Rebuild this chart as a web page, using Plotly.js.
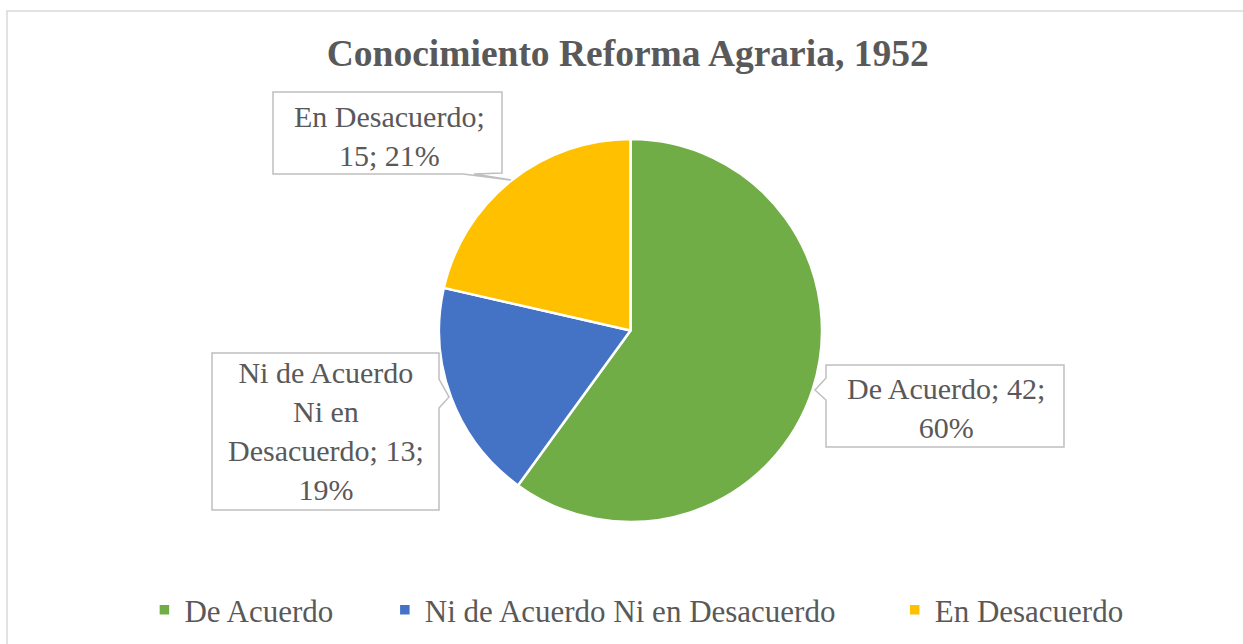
<!DOCTYPE html>
<html>
<head>
<meta charset="utf-8">
<script src="https://cdn.plot.ly/plotly-3.0.1.min.js"></script>
<style>html,body{margin:0;padding:0;background:#fff}#chart{width:1243px;height:644px}</style>
</head>
<body>
<div id="chart"></div>
<script>
const categories = ["De Acuerdo", "Ni de Acuerdo Ni en Desacuerdo", "En Desacuerdo"];
const values = [42, 13, 15];
const percents = ["60%", "19%", "21%"];
const colors = ["#70AD47", "#4472C4", "#FFC000"];
const titleText = "Conocimiento Reforma Agraria, 1952";

const W = 1243, H = 644;
const X = p => p / W;
const Y = p => 1 - p / H;
const path = pts => pts.map((p, i) => (i ? "L" : "M") + X(p[0]).toFixed(5) + "," + Y(p[1]).toFixed(5)).join(" ") + " Z";
const pathOpen = pts => pts.map((p, i) => (i ? "L" : "M") + X(p[0]).toFixed(5) + "," + Y(p[1]).toFixed(5)).join(" ");

const font = "'Liberation Serif', 'Times New Roman', serif";
const grey = "#595959";
const boxLine = "#BFBFBF";

// legend spacing: trailing non-breaking spaces widen the gap between entries
const legendPad = [6, 7, 0];
const legendLabels = categories.map((c, i) => c + "\u00a0".repeat(legendPad[i]));

const trace = {
  type: "pie",
  labels: legendLabels,
  values: values,
  sort: false,
  direction: "clockwise",
  rotation: 0,
  textinfo: "none",
  hovertext: categories,
  hoverinfo: "text+value+percent",
  marker: {colors: colors, line: {color: "#FFFFFF", width: 2.5}},
  domain: {x: [X(439), X(822)], y: [Y(522), Y(139)]},
  showlegend: true
};

const lbl = [
  categories[0] + "; " + values[0] + ";<br>" + percents[0],
  "Ni de Acuerdo<br>Ni en<br>Desacuerdo; " + values[1] + ";<br>" + percents[1],
  categories[2] + ";<br>" + values[2] + "; " + percents[2]
];

const annFont = {family: font, size: 30, color: grey};
const annotations = [
  {xref: "paper", yref: "paper", x: X(946), y: Y(408), text: lbl[0], showarrow: false, font: annFont, align: "center", xanchor: "center", yanchor: "middle"},
  {xref: "paper", yref: "paper", x: X(326), y: Y(431), text: lbl[1], showarrow: false, font: annFont, align: "center", xanchor: "center", yanchor: "middle"},
  {xref: "paper", yref: "paper", x: X(389), y: Y(136), text: lbl[2], showarrow: false, font: annFont, align: "center", xanchor: "center", yanchor: "middle"}
];

const shapes = [
  {type: "path", xref: "paper", yref: "paper", path: pathOpen([[7, 660], [7, 11], [1260, 11]]), line: {color: "#D9D9D9", width: 1.5}, layer: "below"},
  {type: "path", xref: "paper", yref: "paper", path: path([[826, 365], [1064, 365], [1064, 447], [826, 447], [826, 400], [815, 390], [826, 378]]), line: {color: boxLine, width: 1.5}, fillcolor: "rgba(255,255,255,0)"},
  {type: "path", xref: "paper", yref: "paper", path: path([[212, 353], [439, 353], [439, 379], [449, 397], [439, 408], [439, 510], [212, 510]]), line: {color: boxLine, width: 1.5}, fillcolor: "rgba(255,255,255,0)"},
  {type: "path", xref: "paper", yref: "paper", path: path([[273, 92], [502, 92], [502, 173], [474, 174], [511, 180], [463, 174], [273, 174]]), line: {color: boxLine, width: 1.5}, fillcolor: "rgba(255,255,255,0)"}
];

const layout = {
  width: W, height: H,
  margin: {l: 0, r: 0, t: 0, b: 0},
  paper_bgcolor: "#FFFFFF",
  plot_bgcolor: "#FFFFFF",
  title: {
    text: "<b>" + titleText + "</b>",
    font: {family: font, size: 37.5, color: grey},
    x: 0.505, xanchor: "center", xref: "paper",
    y: Y(53), yanchor: "middle", yref: "paper"
  },
  showlegend: true,
  legend: {
    orientation: "h",
    x: 0.512, xanchor: "center",
    y: Y(610), yanchor: "middle",
    font: {family: font, size: 31, color: grey},
    itemclick: false, itemdoubleclick: false
  },
  annotations: annotations,
  shapes: shapes
};

Plotly.newPlot("chart", [trace], layout, {displayModeBar: false, staticPlot: true});
</script>
</body>
</html>
